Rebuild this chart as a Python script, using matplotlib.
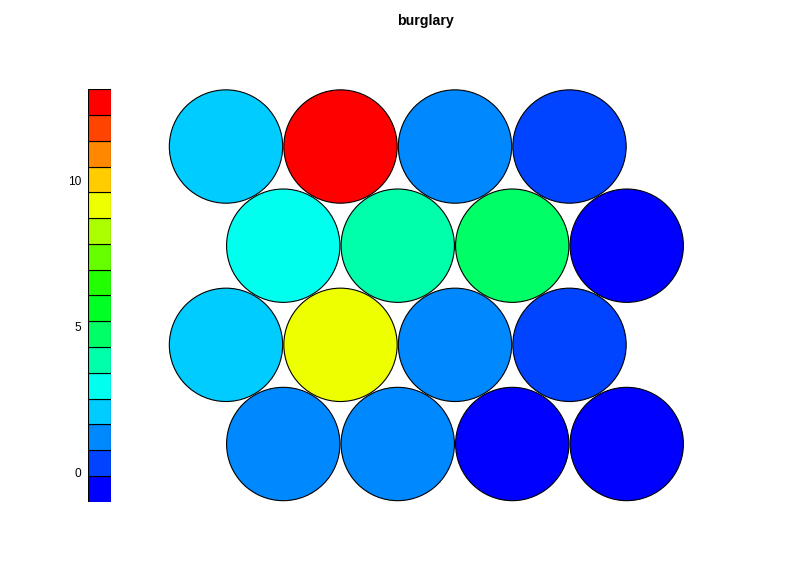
import colorsys
import numpy as np
import matplotlib
matplotlib.use("Agg")
import matplotlib.pyplot as plt
from matplotlib.patches import Circle, Rectangle

# SOM property plot, 4x4 hexagonal grid, property "burglary"
title = "burglary"
n_colors = 16
grid_x = [1.5, 2.5, 3.5, 4.5,
          1.0, 2.0, 3.0, 4.0,
          1.5, 2.5, 3.5, 4.5,
          1.0, 2.0, 3.0, 4.0]
grid_row = [1, 1, 1, 1,
            2, 2, 2, 2,
            3, 3, 3, 3,
            4, 4, 4, 4]
burglary = [1.20, 1.25, -0.42, -0.31,
            2.10, 9.15, 1.22, 0.33,
            2.98, 3.86, 4.75, -0.55,
            2.12, 12.69, 1.18, 0.35]
key_ticks = [0, 5, 10]


def rainbow(n, end=4 / 6):
    # same as R's rev(rainbow(n, end = 4/6))
    hues = np.linspace(0, end, n)
    cols = [colorsys.hsv_to_rgb(h, 1, 1) for h in hues]
    return cols[::-1]


colors = rainbow(n_colors)
zmin, zmax = min(burglary), max(burglary)
step = (zmax - zmin) / (n_colors - 1)

fig = plt.figure(figsize=(7.96, 5.62), dpi=100)

# main grid, one data unit = distance between neighbouring units
ax = fig.add_axes([0, 0, 1, 1])
px = 114.5
x0 = 1 - 226 / px
y0 = np.sqrt(3) / 2 - (562 - 444) / px
ax.set_xlim(x0, x0 + 796 / px)
ax.set_ylim(y0, y0 + 562 / px)
ax.set_aspect("equal")
ax.axis("off")

for x, r, v in zip(grid_x, grid_row, burglary):
    y = r * np.sqrt(3) / 2
    idx = int(round((v - zmin) / step))
    idx = min(max(idx, 0), n_colors - 1)
    ax.add_patch(Circle((x, y), 0.495, facecolor=colors[idx],
                        edgecolor="black", linewidth=0.8))

# colour key
kax = fig.add_axes([88 / 796, 1 - 501.7 / 562, 23 / 796, 412.4 / 562])
levels = np.linspace(zmin, zmax, n_colors)
for lv, c in zip(levels, colors):
    kax.add_patch(Rectangle((0, lv - step / 2), 1, step, facecolor=c,
                            edgecolor="black", linewidth=0.8))
kax.set_xlim(0, 1)
kax.set_ylim(zmin - step / 2, zmax + step / 2)
kax.set_xticks([])
kax.set_yticks(key_ticks)
kax.set_yticklabels([str(t) for t in key_ticks],
                    fontfamily="Liberation Sans", fontsize=8.6)
kax.tick_params(axis="y", length=0, pad=5)
for s in kax.spines.values():
    s.set_visible(False)

fig.text(425 / 796, 1 - 21 / 562, title, ha="center", va="center",
         fontsize=10.2, fontweight="bold", fontfamily="Liberation Sans")

fig.savefig("out.png", dpi=100)
